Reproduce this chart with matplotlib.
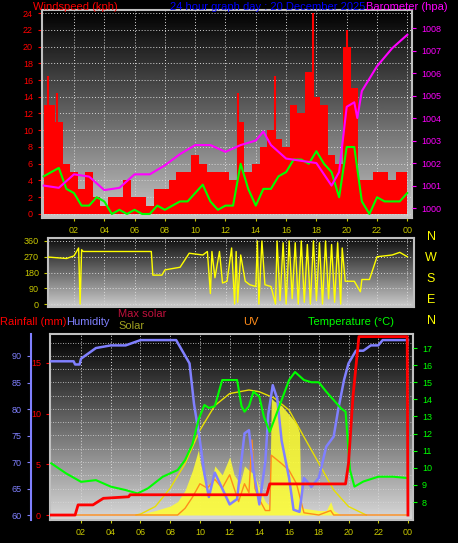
import numpy as np
import matplotlib
matplotlib.use("Agg")
import matplotlib.pyplot as plt

plt.rcParams["font.family"] = ["Liberation Sans", "DejaVu Sans"]

W, H = 458, 543

# ---- data (hours since midnight) ----
wind_t = [i * 0.5 for i in range(49)]
gust = [13, 13, 11, 6, 5, 3, 5, 2, 1, 2, 2, 4, 2, 2, 1, 3, 3, 4, 5, 5, 7, 6, 5, 5, 5, 4,
        11, 5, 6, 8, 10, 9, 8, 13, 12, 17, 14, 13, 7, 6, 20, 15, 4, 4, 5, 5, 4, 5, 5]
avg = [4.5, 5, 5.5, 3, 2.5, 1, 1, 2, 1.5, 0, 0.5, 0, 0.5, 0, 0, 1, 0.5, 1, 1.5, 1.5, 2.5, 3.5,
       1.5, 0.5, 1, 1, 6, 3, 1, 3, 3, 4.5, 5, 6.5, 6.5, 6, 7.5, 6, 5, 2, 8, 8, 1.5, 0, 2, 1.5,
       1.5, 1.5, 2.5]
spike_t = [0.3, 0.9, 12.8, 15.3, 17.8, 20.0, 20.2]
spike_v = [16.5, 14.5, 14.5, 16.5, 24, 22, 20]

baro_t = [0, 1, 2, 3, 4, 5, 6, 7, 8, 9, 10, 11, 12, 13, 14, 14.5, 15, 16, 17, 18, 19, 19.5,
          20, 20.5, 20.7, 21, 22, 23, 24]
baro = [1001.0, 1000.9, 1001.5, 1001.4, 1000.8, 1000.9, 1001.5, 1001.5, 1001.9, 1002.4,
        1002.8, 1002.8, 1002.5, 1002.8, 1003.0, 1003.4, 1002.8, 1002.2, 1002.1, 1002.0,
        1001.0, 1001.6, 1004.5, 1004.7, 1004.0, 1005.2, 1006.3, 1007.1, 1007.7]

dir_t = [0, 1.5, 2.0, 2.3, 2.4, 2.5, 2.6, 7.1, 7.2, 7.8, 8.0, 9.0, 9.6, 10.5, 10.8, 11.0,
         11.1, 11.3, 11.6, 11.8, 12.1, 12.4, 12.6, 12.7, 12.8, 13.0, 13.3, 13.6, 14.0, 14.1,
         14.2, 14.4, 14.6, 15.0, 15.3, 15.4, 15.6, 15.8, 16.0, 16.2, 16.4, 16.6, 16.8, 17.0,
         17.2, 17.4, 17.6, 17.8, 18.0, 18.2, 18.4, 18.6, 18.8, 19.0, 19.2, 19.4, 19.6, 19.7,
         19.9, 20.5, 20.9, 21.0, 21.5, 22.0, 23.0, 23.5, 24.0]
wdir = [270, 260, 275, 320, 0, 310, 300, 300, 165, 165, 195, 210, 290, 280, 300, 60, 300,
        150, 300, 120, 130, 320, 0, 300, 10, 280, 130, 110, 100, 360, 0, 360, 110, 100, 0, 360,
        20, 350, 0, 360, 30, 350, 0, 360, 10, 340, 0, 360, 20, 350, 0, 360, 30, 340, 10, 350,
        0, 320, 130, 130, 70, 140, 140, 270, 280, 295, 270]

hum_t = [0, 1.5, 1.6, 1.9, 2.0, 2.5, 3.0, 4.0, 5.0, 6.0, 8.4, 9.3, 9.6, 10.0, 10.3, 10.6,
         11.0, 11.5, 12.0, 12.5, 13.0, 13.3, 13.6, 14.0, 14.4, 14.6, 14.9, 15.2, 15.5, 16.0,
         16.3, 16.7, 17.0, 17.5, 18.0, 18.5, 19.0, 19.3, 19.7, 20.0, 20.5, 21.0, 21.5, 22.0,
         22.3, 24.0]
hum = [89, 89, 88.4, 88.4, 89.5, 90.5, 91.5, 92, 92, 93, 93, 88.6, 81, 74, 67.8, 63.4, 68,
       65, 62, 63, 75.4, 76, 68.5, 62, 70, 79, 84.5, 82, 74, 67, 61, 60.6, 67, 65.3, 67, 72.9,
       74.8, 79.8, 85.5, 88.6, 91, 91, 92, 92, 93, 93]

rain_t = [0, 1.6, 1.8, 2.8, 3.5, 5.2, 5.3, 14.5, 14.7, 19.8, 20.0, 20.3, 20.7, 23.95, 24.0]
rain = [0, 0, 1.0, 1.0, 1.65, 1.8, 2.0, 2.0, 3.07, 3.07, 5.1, 11.7, 17.6, 17.6, 0]

temp_t = [0, 1, 2, 3, 4, 5, 5.8, 6.5, 7.5, 8.5, 9, 9.5, 9.9, 10.3, 10.6, 11, 11.5, 12, 12.5,
          12.8, 13, 13.3, 13.6, 14, 14.3, 14.7, 15, 15.5, 16, 16.4, 17, 17.5, 18, 18.5, 19,
          19.5, 19.8, 20.1, 20.4, 21, 22, 23, 24]
temp = [10.26, 9.67, 9.18, 9.28, 8.9, 8.7, 8.5, 8.8, 9.48, 9.87, 10.45, 11.4, 12.8, 13.67,
        13.5, 13.6, 15.13, 15.13, 15.13, 13.6, 13.28, 13.6, 14.45, 14.16, 13.0, 12.1, 12.8,
        13.96, 15.13, 15.6, 15.13, 15.0, 15.0, 14.45, 13.96, 13.47, 13.28, 9.87, 8.9, 9.2,
        9.48, 9.48, 9.4]

maxsol_t = [5.7, 6, 7, 8, 9, 10, 11, 12, 13.3, 14, 15, 16, 17, 18, 19, 20, 21, 21.2]
maxsol = [0, 2, 19, 60, 115, 190, 245, 272, 280, 276, 262, 235, 175, 116, 56, 19, 3, 0]

sol_t = [0, 5.8, 7, 8, 8.5, 9, 9.5, 9.9, 10, 10.3, 10.7, 11, 11.5, 12, 12.3, 12.7, 13, 13.3,
         13.7, 14, 14.4, 14.7, 14.8, 15, 15.5, 16, 16.5, 16.7, 16.8, 17, 18, 18.5, 18.8, 19,
         19.5, 24]
sol = [0, 0, 10, 20, 30, 55, 100, 146, 120, 80, 60, 110, 90, 130, 90, 70, 110, 100, 90, 60,
       30, 20, 262, 255, 245, 225, 205, 185, 20, 15, 10, 10, 30, 10, 0, 0]

uv_t = [0, 8.5, 9, 9.5, 10, 10.5, 11, 11.5, 12, 12.3, 12.6, 13, 13.3, 13.5, 13.7, 14, 14.4,
        14.7, 14.8, 15.5, 16, 16.5, 17, 18, 18.8, 19, 24]
uv = [0, 0, 15, 40, 70, 60, 80, 60, 90, 60, 30, 70, 50, 168, 60, 35, 10, 10, 134, 115, 100,
      70, 5, 0, 10, 0, 0]

hour_ticks = list(range(2, 25, 2))
hour_labels = ["%02d" % (h % 24) for h in hour_ticks]


def frame(x0, y0, x1, y1):
    return [x0 / W, 1 - y1 / H, (x1 - x0) / W, (y1 - y0) / H]


def gradient(ax, lo, hi, top_c, bot_c):
    g = np.linspace(top_c, bot_c, 256).reshape(-1, 1)
    ax.imshow(g, aspect="auto", cmap="gray", vmin=0, vmax=1,
              extent=[ax.get_xlim()[0], ax.get_xlim()[1], lo, hi], zorder=0)


def style(ax, grid_y):
    for s in ax.spines.values():
        s.set_color("#c0c0c0")
        s.set_linewidth(1.5)
    ax.set_xticks(hour_ticks)
    for h in hour_ticks:
        ax.axvline(h, color="#d8d8d8", ls=(0, (1, 2)), lw=0.7, zorder=1)
    for y in grid_y:
        ax.axhline(y, color="#d8d8d8", ls=(0, (1, 2)), lw=0.7, zorder=1)


fig = plt.figure(figsize=(W / 100, H / 100), dpi=100, facecolor="black")
fs = 6.5
hfs = 8

# ---- top panel: wind + barometer ----
ax1 = fig.add_axes(frame(42, 10, 412, 218))
ax1.set_xlim(-0.11, 24.31)
ax1.set_ylim(-0.48, 24.36)
gradient(ax1, -0.48, 24.36, 0.0, 0.78)
style(ax1, range(0, 25, 2))
ax1.fill_between(wind_t, gust, step="mid", color="#ff0000", lw=0, zorder=2)
ax1.vlines(spike_t, 0, spike_v, color="#ff0000", lw=1.5, zorder=2)
ax1.plot(wind_t, avg, color="#00ff00", lw=1.5, zorder=4)
ax1.set_yticks(range(0, 25, 2))
ax1.tick_params(axis="y", colors="#ff0000", labelsize=fs, length=3)
ax1.tick_params(axis="x", colors="#c8c800", labelsize=fs, length=2)
ax1.set_xticklabels(hour_labels)
axb = ax1.twinx()
axb.set_ylim(999.56, 1008.8)
axb.plot(baro_t, baro, color="#ff00ff", lw=1.5, zorder=3)
axb.set_yticks(range(1000, 1009))
axb.tick_params(axis="y", colors="#ff00ff", labelsize=fs, length=3)
for s in axb.spines.values():
    s.set_visible(False)

fig.text(33 / W, 1 - 7 / H, "Windspeed (kph)", color="#ff0000", fontsize=hfs, va="center")
fig.text(170 / W, 1 - 7 / H, "24 hour graph day : 20 December 2025", color="#0000ff",
         fontsize=hfs, va="center")
fig.text(366 / W, 1 - 7 / H, "Barometer (hpa)", color="#ff00ff", fontsize=hfs, va="center")

# ---- middle panel: wind direction ----
ax2 = fig.add_axes(frame(48, 238, 414, 307))
ax2.set_xlim(0.28, 24.44)
ax2.set_ylim(-17, 377)
gradient(ax2, -17, 377, 0.05, 0.8)
style(ax2, [0, 90, 180, 270, 360])
ax2.plot(dir_t, wdir, color="#ffff00", lw=1.0, zorder=3)
ax2.set_yticks([0, 90, 180, 270, 360])
ax2.tick_params(axis="y", colors="#c8c800", labelsize=fs, length=3)
ax2.tick_params(axis="x", length=0, labelbottom=False)
for lab, y in zip("NWSEN", [241, 262, 283, 304, 325]):
    fig.text(431 / W, 1 - (y - 4) / H, lab, color="#ffff00", fontsize=9, ha="center",
             va="center")

# ---- bottom panel ----
ax3 = fig.add_axes(frame(50, 334, 413, 520))
ax3.set_xlim(-0.09, 24.34)
ax3.set_ylim(-0.49, 17.86)
gradient(ax3, -0.49, 17.86, 0.0, 0.85)
style(ax3, [])
for y in np.arange(60, 95, 2.5):
    ax3.axhline((y - 60) * 5.3 / 10.13, color="#d8d8d8", ls=(0, (1, 2)), lw=0.6, zorder=1)
ax3.set_yticks([0, 5, 10, 15])
ax3.tick_params(axis="y", colors="#ff0000", labelsize=fs, length=3)
ax3.tick_params(axis="x", colors="#c8c800", labelsize=fs, length=2)
ax3.set_xticklabels(hour_labels)

axs = ax3.twinx()
axs.set_ylim(-11.2, 405.4)
axs.fill_between(sol_t, sol, color="#ffff30", alpha=0.85, lw=0, zorder=2)
axs.plot(maxsol_t, maxsol, color="#e8e000", lw=1.0, zorder=3)
axs.plot(uv_t, uv, color="#ff8c1a", lw=1.0, zorder=4)
axs.set_yticks([])
for s in axs.spines.values():
    s.set_visible(False)

axh = ax3.twinx()
axh.set_ylim(59.06, 94.15)
axh.plot(hum_t, hum, color="#8080ff", lw=1.8, zorder=5)
axh.yaxis.set_ticks_position("left")
axh.spines["left"].set_position(("outward", 14))
axh.spines["left"].set_color("#8080ff")
axh.spines["left"].set_linewidth(1.5)
for k in ("right", "top", "bottom"):
    axh.spines[k].set_visible(False)
axh.set_yticks(range(60, 91, 5))
axh.tick_params(axis="y", colors="#8080ff", labelsize=fs, length=3)

axt = ax3.twinx()
axt.set_ylim(6.95, 17.82)
axt.plot(temp_t, temp, color="#00ff00", lw=1.5, zorder=6)
axt.set_yticks(range(8, 18))
axt.tick_params(axis="y", colors="#00ff00", labelsize=fs, length=3)
for s in axt.spines.values():
    s.set_visible(False)

axr = ax3.twinx()
axr.set_ylim(-0.49, 17.86)
axr.plot(rain_t, rain, color="#ff0000", lw=2.0, zorder=7)
axr.set_yticks([])
for s in axr.spines.values():
    s.set_visible(False)

fig.text(0, 1 - 322 / H, "Rainfall (mm)", color="#ff0000", fontsize=hfs, va="center")
fig.text(66 / W, 1 - 322 / H, "Humidity", color="#8080ff", fontsize=hfs, va="center")
fig.text(118 / W, 1 - 314 / H, "Max solar", color="#c0103c", fontsize=hfs, va="center")
fig.text(118 / W, 1 - 326 / H, "Solar", color="#a0a020", fontsize=hfs, va="center")
fig.text(243 / W, 1 - 322 / H, "UV", color="#ff8c1a", fontsize=hfs, va="center")
fig.text(308 / W, 1 - 322 / H, "Temperature (°C)", color="#00ff00", fontsize=hfs, va="center")

fig.savefig("out.png", dpi=100, facecolor="black")
